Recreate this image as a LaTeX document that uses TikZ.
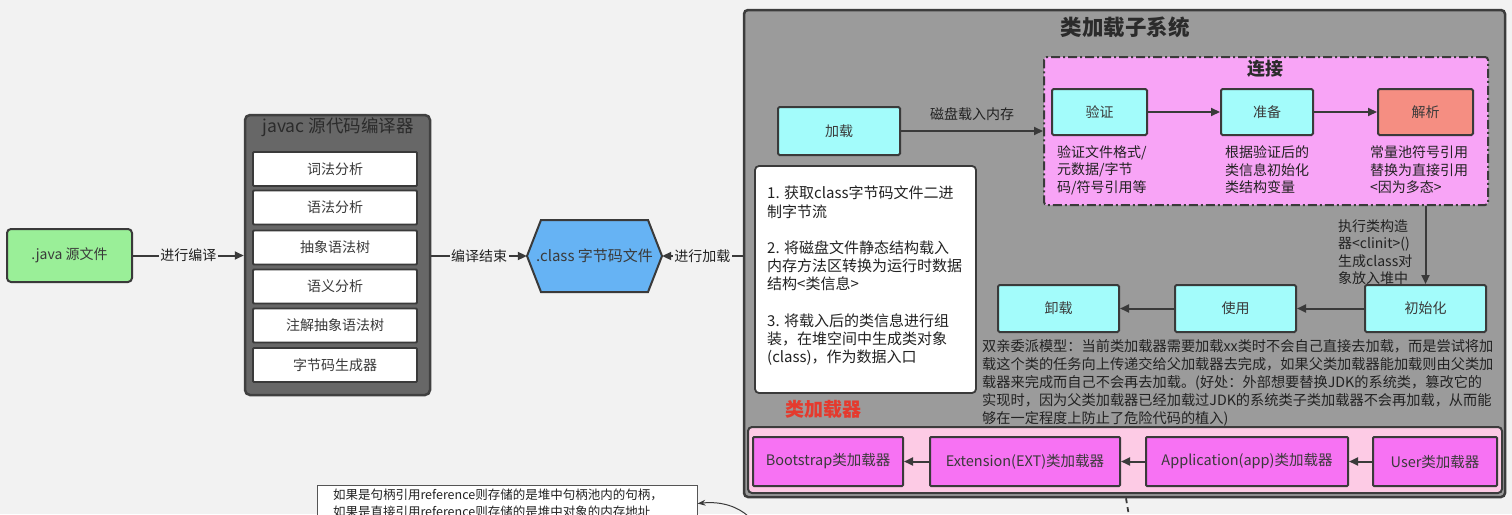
\documentclass[tikz,border=0pt]{standalone}
\usepackage{fontspec}
\setmainfont{Noto Sans CJK SC}
\usetikzlibrary{arrows.meta,calc}

\definecolor{bgc}{HTML}{F2F2F2}
\definecolor{linec}{HTML}{3A3A3A}
\definecolor{textc}{HTML}{222222}
\definecolor{titlec}{HTML}{2B2B2B}
\definecolor{javagreen}{HTML}{9AEF98}
\definecolor{javacgray}{HTML}{676767}
\definecolor{javacline}{HTML}{404040}
\definecolor{classblue}{HTML}{66B3F4}
\definecolor{subgray}{HTML}{9B9B9B}
\definecolor{subline}{HTML}{3C3C3C}
\definecolor{stagecyan}{HTML}{A3FCFB}
\definecolor{linkpink}{HTML}{F8A4F6}
\definecolor{resolvered}{HTML}{F58E82}
\definecolor{loaderpink}{HTML}{FDCBE5}
\definecolor{loadermag}{HTML}{F772F3}
\definecolor{notered}{HTML}{E53A2E}
\definecolor{notegray}{HTML}{555555}

\tikzset{
	stage/.style={draw=linec, line width=2pt, fill=stagecyan, rounded corners=1.5pt, minimum width=121pt, minimum height=47pt, inner sep=0pt, text=linec, font=\fontsize{14}{17}\selectfont},
	phase/.style={stage, minimum width=95pt, minimum height=46pt},
	pass/.style={draw=linec, line width=1.8pt, fill=white, rounded corners=1pt, minimum width=164pt, minimum height=34pt, inner sep=0pt, text=linec, font=\fontsize{14}{17}\selectfont},
	loader/.style={draw=linec, line width=2pt, fill=loadermag, rounded corners=1pt, minimum height=49pt, inner sep=0pt, text=linec, font=\fontsize{14.5}{17}\selectfont},
	flow/.style={draw=linec, line width=2pt, -{Triangle[length=9pt,width=8pt]}},
	thinflow/.style={draw=linec, line width=1pt, -{Stealth[length=8pt,width=6pt]}},
	flowlabel/.style={fill=bgc, inner sep=1.5pt, text=textc, font=\fontsize{14}{17}\selectfont},
	plain/.style={inner sep=0pt, align=left, text=textc, font=\fontsize{14}{17.5}\selectfont},
}

\begin{document}
\begin{tikzpicture}[x=1pt, y=-1pt]
	%%%%% START %%%%%
	\fill[bgc] (0, 0) rectangle (1512, 514);
	\clip (0, 0) rectangle (1512, 514);
	
	% source file and compiler
	\node[stage, fill=javagreen, minimum width=125pt, minimum height=53pt, rounded corners=4pt] (java) at (69.5, 255.5) {.java 源文件};
	
	\node[draw=javacline, line width=2.5pt, fill=javacgray, rounded corners=5pt, minimum width=185pt, minimum height=280pt] (javac) at (337.5, 255) {};
	\node[text=titlec, font=\fontsize{17.5}{20}\selectfont] (javactitle) at (338, 127) {javac 源代码编译器};
	\node[pass] (lex) at (335, 169) {词法分析};
	\node[pass] (syn) at (335, 207.5) {语法分析};
	\node[pass] (ast) at (335, 247.5) {抽象语法树};
	\node[pass] (sem) at (335, 286.5) {语义分析};
	\node[pass] (ann) at (335, 325.5) {注解抽象语法树};
	\node[pass] (gen) at (335, 365) {字节码生成器};
	
	\draw[flow] (java) -- node[flowlabel] {进行编译} (java -| javac.west);
	
	% class file
	\draw[draw=linec, line width=2pt, fill=classblue] (527, 256) -- (541, 220) -- (648, 220) -- (662, 256) -- (648, 292) -- (541, 292) -- cycle;
	\node[minimum width=135pt, minimum height=72pt, inner sep=0pt, text=linec, font=\fontsize{15}{18}\selectfont] (cls) at (594.5, 256) {.class 字节码文件};
	\draw[flow] (javac.east |- cls) -- node[flowlabel] {编译结束} (cls.west);
	
	% class loading subsystem
	\node[draw=subline, line width=2.5pt, fill=subgray, rounded corners=4pt, minimum width=761pt, minimum height=487pt] (sub) at (1124.5, 253.5) {};
	\node[text=titlec, font=\bfseries\fontsize{21.5}{24}\selectfont] (subtitle) at (1125, 27) {类加载子系统};
	\draw[flow] (sub.west |- cls) -- node[flowlabel] {进行加载} (cls.east);
	
	\node[stage, minimum width=122pt, minimum height=48pt] (load) at (839, 131) {加载};
	
	\node[draw=linec, line width=2pt, dash pattern=on 9pt off 3pt on 2pt off 3pt, fill=linkpink, rounded corners=3pt, minimum width=444pt, minimum height=148pt] (link) at (1266, 131) {};
	\node[text=titlec, font=\bfseries\fontsize{18}{21}\selectfont] (linktitle) at (1265, 69) {连接};
	\draw[flow] (load) -- node[plain, above=9pt] {磁盘载入内存} (load -| link.west);
	
	\node[phase] (verify) at (1099.5, 112) {验证};
	\node[phase, minimum width=92pt] (prepare) at (1267, 112) {准备};
	\node[phase, fill=resolvered] (resolve) at (1425.5, 112) {解析};
	\draw[flow] (verify) -- (prepare);
	\draw[flow] (prepare) -- (resolve);
	\node[plain, anchor=west] (verifytxt) at (1057, 170) {验证文件格式/\\元数据/字节\\码/符号引用等};
	\node[plain, anchor=west] (preparetxt) at (1225, 170) {根据验证后的\\类信息初始化\\类结构变量};
	\node[plain, anchor=west] (resolvetxt) at (1370, 170) {常量池符号引用\\替换为直接引用\\<因为多态>};
	
	\node[stage] (init) at (1425.5, 308.5) {初始化};
	\node[stage] (use) at (1235.5, 308.5) {使用};
	\node[stage] (unload) at (1058.5, 308.5) {卸载};
	\draw[flow] (resolve |- link.south) -- (init);
	\node[plain, anchor=west] (clinit) at (1338, 252) {执行类构造\\器<clinit>()\\生成class对\\象放入堆中};
	\draw[flow] (init) -- (use);
	\draw[flow] (use) -- (unload);
	
	\node[draw=linec, line width=1.8pt, fill=white, rounded corners=4pt, minimum width=221pt, minimum height=227pt] (note) at (865.5, 279.5) {};
	\node[plain, anchor=west, font=\fontsize{15}{18.2}\selectfont] (notetxt) at (767, 276) {1. 获取class字节码文件二进\\制字节流\\[18.2pt]2. 将磁盘文件静态结构载入\\内存方法区转换为运行时数据\\结构<类信息>\\[18.2pt]3. 将载入后的类信息进行组\\装，在堆空间中生成类对象\\(class)，作为数据入口};
	\node[text=notered, font=\bfseries\fontsize{19}{22}\selectfont] (loadertitle) at (823, 409) {类加载器};
	
	\node[plain, anchor=west, font=\fontsize{14.2}{18}\selectfont] (parent) at (982, 383) {双亲委派模型：当前类加载器需要加载xx类时不会自己直接去加载，而是尝试将加\\载这个类的任务向上传递交给父加载器去完成，如果父类加载器能加载则由父类加\\载器来完成而自己不会再去加载。(好处：外部想要替换JDK的系统类，篡改它的\\实现时，因为父类加载器已经加载过JDK的系统类子类加载器不会再加载，从而能\\够在一定程度上防止了危险代码的植入)};
	
	% loader chain
	\node[draw=subline, line width=2pt, fill=loaderpink, rounded corners=4pt, minimum width=754pt, minimum height=66pt] (chain) at (1125, 460) {};
	\node[loader, minimum width=150pt] (boot) at (828, 461.5) {Bootstrap类加载器};
	\node[loader, minimum width=190pt] (ext) at (1025, 461.5) {Extension(EXT)类加载器};
	\node[loader, minimum width=202pt] (app) at (1247, 461.5) {Application(app)类加载器};
	\node[loader, minimum width=124pt] (user) at (1435, 461.5) {User类加载器};
	\draw[flow] (user) -- (app);
	\draw[flow] (app) -- (ext);
	\draw[flow] (ext) -- (boot);
	
	\coordinate (dashend) at (1129, 516);
	\draw[draw=linec, line width=1.8pt, dash pattern=on 5pt off 4pt] ($(sub.south)+(1.5,0)$) -- (dashend);
	
	% reference note, cut by the page edge
	\node[draw=notegray, line width=1pt, fill=white, text width=348pt, inner xsep=16pt, inner ysep=3pt, minimum height=37pt, align=left, text=textc, font=\fontsize{12.5}{17}\selectfont] (refnote) at (507, 503.5) {如果是句柄引用reference则存储的是堆中句柄池内的句柄，\\如果是直接引用reference则存储的是堆中对象的内存地址};
	\coordinate (curvestart) at (748, 516);
	\draw[thinflow] (curvestart) .. controls (738, 507) and (722, 501) .. (refnote.east);
	
	%%%%% END %%%%%
\end{tikzpicture}
\end{document}
